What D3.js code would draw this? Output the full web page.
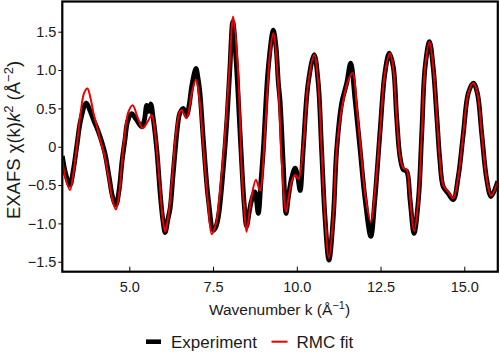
<!DOCTYPE html>
<html><head><meta charset="utf-8">
<script src="https://cdn.jsdelivr.net/npm/d3@7"></script>
<style>
body{margin:0;background:#fff;}
text{font-family:"Liberation Sans",Arial,sans-serif;fill:#1a1a1a;}
</style></head>
<body><svg id="c" width="500" height="356"></svg>
<script>
// ---- data ----
const expK = [3.00,3.10,3.23,3.33,3.43,3.55,3.71,3.82,3.93,4.03,4.13,4.27,4.40,4.50,4.60,4.70,4.78,4.87,4.95,5.07,5.20,5.37,5.45,5.52,5.58,5.64,5.72,5.82,5.92,6.00,6.07,6.15,6.22,6.30,6.37,6.45,6.51,6.61,6.71,6.79,6.86,6.99,7.05,7.11,7.21,7.36,7.51,7.58,7.66,7.81,7.92,8.00,8.09,8.20,8.28,8.36,8.43,8.50,8.58,8.65,8.75,8.85,8.93,9.00,9.15,9.30,9.38,9.45,9.50,9.60,9.68,9.75,9.85,9.95,10.03,10.10,10.19,10.34,10.52,10.64,10.74,10.84,10.96,11.09,11.19,11.34,11.49,11.61,11.74,11.89,12.04,12.21,12.33,12.48,12.63,12.76,12.88,12.98,13.08,13.18,13.28,13.38,13.50,13.63,13.73,13.83,13.96,14.07,14.18,14.27,14.37,14.52,14.67,14.82,14.97,15.12,15.27,15.39,15.52,15.67,15.80,16.00];
const expV = [-0.12,-0.35,-0.50,-0.30,0.00,0.35,0.57,0.48,0.35,0.25,0.13,-0.08,-0.40,-0.65,-0.76,-0.55,-0.20,0.09,0.33,0.43,0.36,0.26,0.35,0.54,0.46,0.56,0.35,-0.04,-0.60,-0.95,-1.12,-0.95,-0.80,-0.40,-0.05,0.30,0.44,0.50,0.41,0.55,0.78,1.02,0.90,0.70,0.09,-0.69,-1.09,-1.05,-0.91,-0.26,0.39,1.00,1.63,1.04,0.40,-0.26,-0.75,-1.04,-0.85,-0.70,-0.59,-0.87,-0.45,-0.04,1.04,1.52,1.30,0.83,0.60,-0.26,-0.87,-0.65,-0.40,-0.28,-0.40,-0.57,-0.04,0.83,1.20,0.83,-0.04,-0.91,-1.48,-0.91,-0.04,0.57,0.83,1.09,0.61,-0.04,-0.69,-1.17,-0.69,0.17,0.96,1.22,1.04,0.39,-0.13,-0.30,-0.32,-0.69,-1.13,-0.69,0.17,1.04,1.37,1.04,0.39,-0.17,-0.52,-0.61,-0.69,-0.39,0.17,0.70,0.83,0.70,0.17,-0.43,-0.65,-0.45];

const fitK = [3.00,3.10,3.23,3.33,3.43,3.55,3.65,3.75,3.85,3.93,4.03,4.13,4.27,4.40,4.50,4.60,4.70,4.78,4.87,4.97,5.10,5.25,5.40,5.55,5.67,5.75,5.82,5.92,6.00,6.07,6.15,6.22,6.30,6.40,6.50,6.56,6.71,6.86,6.99,7.10,7.21,7.36,7.46,7.56,7.61,7.76,7.91,8.00,8.10,8.24,8.36,8.43,8.50,8.60,8.65,8.78,8.90,9.05,9.20,9.30,9.45,9.55,9.68,9.75,9.85,9.95,10.05,10.19,10.34,10.52,10.64,10.74,10.84,10.96,11.09,11.19,11.34,11.54,11.67,11.79,11.92,12.05,12.21,12.33,12.48,12.63,12.78,12.88,12.98,13.08,13.18,13.28,13.38,13.50,13.63,13.73,13.83,13.96,14.07,14.18,14.27,14.37,14.52,14.67,14.82,14.97,15.12,15.27,15.39,15.52,15.67,15.80,16.00];
const fitV = [-0.17,-0.42,-0.565,-0.35,0.00,0.45,0.70,0.76,0.62,0.44,0.27,0.09,-0.13,-0.45,-0.70,-0.82,-0.60,-0.20,0.18,0.45,0.54,0.38,0.24,0.33,0.41,0.25,-0.04,-0.55,-0.95,-1.11,-0.95,-0.70,-0.30,0.20,0.45,0.48,0.37,0.69,0.87,0.60,0.00,-0.78,-1.14,-1.05,-0.96,-0.35,0.48,1.10,1.70,1.04,-0.35,-0.80,-1.11,-0.80,-0.65,-0.43,-0.57,0.20,1.22,1.48,0.78,-0.20,-0.85,-0.68,-0.45,-0.37,-0.42,0.00,0.83,1.20,0.83,-0.04,-0.90,-1.45,-0.90,-0.04,0.49,0.87,0.96,0.52,-0.10,-0.65,-0.98,-0.60,0.17,0.96,1.22,1.02,0.39,-0.13,-0.28,-0.30,-0.66,-1.10,-0.69,0.17,1.04,1.37,1.04,0.39,-0.17,-0.50,-0.59,-0.67,-0.39,0.17,0.70,0.83,0.70,0.17,-0.43,-0.64,-0.45];

const xTicks = [5, 7.5, 10, 12.5, 15];
const xTickLabels = ["5.0","7.5","10.0","12.5","15.0"];
const yTicks = [-1.5,-1,-0.5,0,0.5,1,1.5];
const yTickLabels = ["\u22121.5","\u22121.0","\u22120.5","0","0.5","1.0","1.5"];
const seriesNames = ["Experiment","RMC fit"];

// ---- layout ----
const svg = d3.select("#c");
const L = 62.3, R = 497.8, T = 1.5, B = 271.7;
const x = d3.scaleLinear().domain([3,16]).range([L,R]);
const y = d3.scaleLinear().domain([-1.63,1.894]).range([B,T]);

svg.append("clipPath").attr("id","clip").append("rect")
  .attr("x",L).attr("y",T).attr("width",R-L).attr("height",B-T);

const line = d3.line().x(d=>x(d[0])).y(d=>y(d[1])).curve(d3.curveCatmullRom.alpha(0.5));
const expData = expK.map((k,i)=>[k,expV[i]]);
const fitData = fitK.map((k,i)=>[k,fitV[i]]);

const g = svg.append("g").attr("clip-path","url(#clip)");
g.append("path").datum(expData).attr("d",line)
  .attr("fill","none").attr("stroke","#000").attr("stroke-width",4.8).attr("stroke-linejoin","round");
g.append("path").datum(fitData).attr("d",line)
  .attr("fill","none").attr("stroke","#ee0000").attr("stroke-width",2).attr("stroke-linejoin","round");

// axes
const xAxis = d3.axisBottom(x).tickValues(xTicks).tickFormat((d,i)=>xTickLabels[i]).tickSizeInner(-5).tickSizeOuter(0).tickPadding(10);
const ax = svg.append("g").attr("transform",`translate(0,${B})`).call(xAxis);
ax.select(".domain").remove();
ax.selectAll("line").attr("stroke","#000").attr("stroke-width",1);
ax.selectAll("text").attr("font-size","14.5px").attr("fill","#1a1a1a").attr("font-family","Liberation Sans, Arial, sans-serif");

const yAxis = d3.axisLeft(y).tickValues(yTicks).tickFormat((d,i)=>yTickLabels[i]).tickSizeInner(4).tickSizeOuter(0).tickPadding(2);
const ay = svg.append("g").attr("transform",`translate(${L},0)`).call(yAxis);
ay.select(".domain").remove();
ay.selectAll("line").attr("stroke","#000").attr("stroke-width",1);
ay.selectAll("text").attr("font-size","14.5px").attr("fill","#1a1a1a").attr("font-family","Liberation Sans, Arial, sans-serif");

// frame
svg.append("rect").attr("x",L).attr("y",T).attr("width",R-L).attr("height",B-T)
  .attr("fill","none").attr("stroke","#000").attr("stroke-width",2.2);

// x title
const xt = svg.append("text").attr("x",279.5).attr("y",315).attr("text-anchor","middle").attr("font-size","15.5px");
xt.append("tspan").text("Wavenumber k (\u00C5");
xt.append("tspan").attr("dy",-6).attr("font-size","11px").text("\u22121");
xt.append("tspan").attr("dy",6).text(")");

// y title
const yt = svg.append("text").attr("transform","translate(19.5,140) rotate(-90)").attr("text-anchor","middle").attr("font-size","18.5px");
yt.append("tspan").text("EXAFS \u03C7(k)");
yt.append("tspan").attr("font-style","italic").text("k");
yt.append("tspan").attr("dy",-7).attr("font-size","13px").text("2");
yt.append("tspan").attr("dy",7).text(" (\u00C5");
yt.append("tspan").attr("dy",-7).attr("font-size","13px").text("\u22122");
yt.append("tspan").attr("dy",7).text(")");

// legend
const leg = svg.append("g");
const items = [
  {name:seriesNames[0], color:"#000", w:4.6, x1:146, x2:161, tx:171},
  {name:seriesNames[1], color:"#ee0000", w:2, x1:271.5, x2:287.5, tx:296.5}
];
items.forEach(it=>{
  leg.append("line").attr("x1",it.x1).attr("x2",it.x2).attr("y1",341.7).attr("y2",341.7)
    .attr("stroke",it.color).attr("stroke-width",it.w);
  leg.append("text").attr("x",it.tx).attr("y",347.5).attr("font-size","17px").text(it.name);
});
</script></body></html>
